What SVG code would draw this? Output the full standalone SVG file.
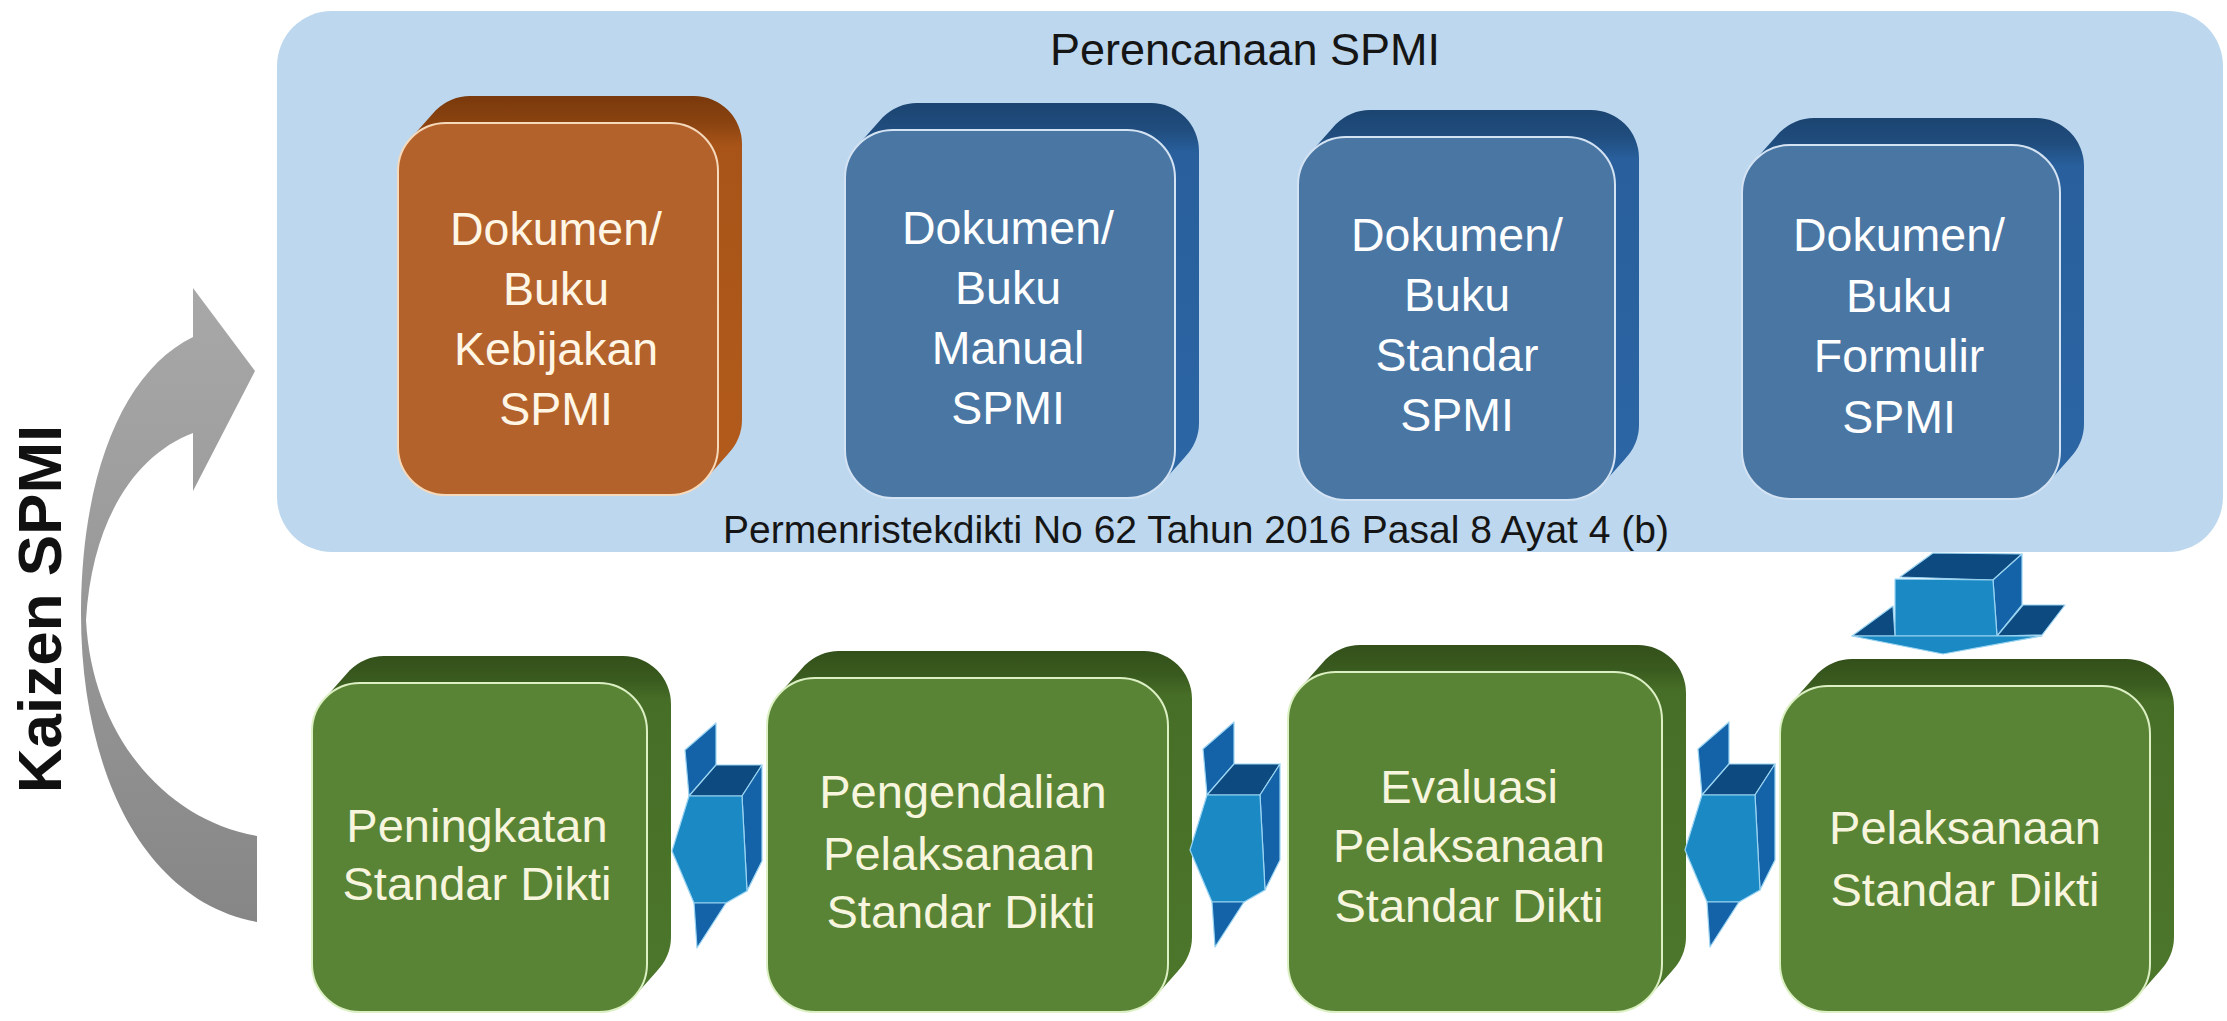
<svg xmlns="http://www.w3.org/2000/svg" width="2227" height="1021" viewBox="0 0 2227 1021">
<defs>
  <linearGradient id="gOB" x1="0" y1="0" x2="0" y2="1">
    <stop offset="0" stop-color="#7A390C"/><stop offset="0.07" stop-color="#8A4310"/><stop offset="0.13" stop-color="#A85418"/><stop offset="1" stop-color="#B25B1C"/>
  </linearGradient>
  <linearGradient id="gBB" x1="0" y1="0" x2="0" y2="1">
    <stop offset="0" stop-color="#1B4471"/><stop offset="0.07" stop-color="#204D7E"/><stop offset="0.13" stop-color="#285F9C"/><stop offset="1" stop-color="#2C66A4"/>
  </linearGradient>
  <linearGradient id="gGB" x1="0" y1="0" x2="0" y2="1">
    <stop offset="0" stop-color="#33501A"/><stop offset="0.07" stop-color="#3A5B1F"/><stop offset="0.13" stop-color="#476E27"/><stop offset="1" stop-color="#4C772B"/>
  </linearGradient>
  <linearGradient id="gK" x1="0" y1="0" x2="0" y2="1">
    <stop offset="0" stop-color="#A8A8A8"/><stop offset="0.5" stop-color="#989898"/><stop offset="1" stop-color="#868686"/>
  </linearGradient>
  <g id="leftArrow">
    <polygon class="aS" points="13,-101 44,-128 44,-86 17,-55"/>
    <polygon class="aT" points="17,-55 44,-86 90,-86 70,-55"/>
    <polygon class="aS" points="70,-55 90,-86 90,10 75,40"/>
    <polygon class="aF" points="17,-55 70,-55 75,40 54,52 22,52 0,0"/>
    <polygon class="aS" points="22,52 54,52 25,97"/>
  </g>
</defs>
<style>
  text{font-family:"Liberation Sans",Arial,sans-serif}
  .panel{fill:#BDD7EE}
  .ttl{fill:#151515;text-anchor:middle}
  .fo{fill:#B4622B;stroke:#F6D9BA;stroke-width:2}
  .fb{fill:#4A76A3;stroke:#D3E3F3;stroke-width:2}
  .fg{fill:#5A8435;stroke:#DCF0C4;stroke-width:2}
  .bo{fill:url(#gOB)}
  .bb{fill:url(#gBB)}
  .bg{fill:url(#gGB)}
  .dt{font-size:46.5px;fill:#FFFFFF;text-anchor:middle}
  .ot{font-size:46.5px;fill:#FFF6E6;text-anchor:middle}
  .gt{font-size:47px;fill:#F7F5DE;text-anchor:middle}
  .aF{fill:#1B8AC4;stroke:#9AD4F2;stroke-width:1.2;stroke-linejoin:round}
  .aT{fill:#0C4A80;stroke:#9AD4F2;stroke-width:1.2;stroke-linejoin:round}
  .aS{fill:#1463A8;stroke:#9AD4F2;stroke-width:1.2;stroke-linejoin:round}
</style>

<g id="panel-perencanaan">
  <rect class="panel" x="277" y="11" width="1946" height="541" rx="55"/>
  <text class="ttl" x="1245" y="65" font-size="45">Perencanaan SPMI</text>
  <text class="ttl" x="1196" y="543" font-size="39">Permenristekdikti No 62 Tahun 2016 Pasal 8 Ayat 4 (b)</text>
</g>

<g id="node-kebijakan" transform="translate(398,123)">
  <path class="bo" d="M72,-27 H296 A48,48 0 0 1 344,21 V297 A48,48 0 0 1 296,345 H72 A48,48 0 0 1 24,297 V21 A48,48 0 0 1 72,-27 Z M14,14 L38,-13 L330,331 L306,358 Z"/>
  <rect class="fo" x="0" y="0" width="320" height="372" rx="48"/>
  <text class="ot" x="158" y="122">Dokumen/</text>
  <text class="ot" x="158" y="182">Buku</text>
  <text class="ot" x="158" y="242">Kebijakan</text>
  <text class="ot" x="158" y="302">SPMI</text>
</g>

<g id="node-manual" transform="translate(845,130)">
  <path class="bb" d="M72,-27 H306 A48,48 0 0 1 354,21 V293 A48,48 0 0 1 306,341 H72 A48,48 0 0 1 24,293 V21 A48,48 0 0 1 72,-27 Z M14,14 L38,-13 L340,327 L316,354 Z"/>
  <rect class="fb" x="0" y="0" width="330" height="368" rx="48"/>
  <text class="dt" x="163" y="114">Dokumen/</text>
  <text class="dt" x="163" y="174">Buku</text>
  <text class="dt" x="163" y="234">Manual</text>
  <text class="dt" x="163" y="294">SPMI</text>
</g>

<g id="node-standar" transform="translate(1298,137)">
  <path class="bb" d="M72,-27 H293 A48,48 0 0 1 341,21 V288 A48,48 0 0 1 293,336 H72 A48,48 0 0 1 24,288 V21 A48,48 0 0 1 72,-27 Z M14,14 L38,-13 L327,322 L303,349 Z"/>
  <rect class="fb" x="0" y="0" width="317" height="363" rx="48"/>
  <text class="dt" x="159" y="114">Dokumen/</text>
  <text class="dt" x="159" y="174">Buku</text>
  <text class="dt" x="159" y="234">Standar</text>
  <text class="dt" x="159" y="294">SPMI</text>
</g>

<g id="node-formulir" transform="translate(1742,145)">
  <path class="bb" d="M72,-27 H294 A48,48 0 0 1 342,21 V279 A48,48 0 0 1 294,327 H72 A48,48 0 0 1 24,279 V21 A48,48 0 0 1 72,-27 Z M14,14 L38,-13 L328,313 L304,340 Z"/>
  <rect class="fb" x="0" y="0" width="318" height="354" rx="48"/>
  <text class="dt" x="157" y="106">Dokumen/</text>
  <text class="dt" x="157" y="167">Buku</text>
  <text class="dt" x="157" y="227">Formulir</text>
  <text class="dt" x="157" y="288">SPMI</text>
</g>

<g id="node-peningkatan" transform="translate(312,683)">
  <path class="bg" d="M72,-27 H311 A48,48 0 0 1 359,21 V254 A48,48 0 0 1 311,302 H72 A48,48 0 0 1 24,254 V21 A48,48 0 0 1 72,-27 Z M14,14 L38,-13 L345,288 L321,315 Z"/>
  <rect class="fg" x="0" y="0" width="335" height="329" rx="48"/>
  <text class="gt" x="165" y="159">Peningkatan</text>
  <text class="gt" x="165" y="217">Standar Dikti</text>
</g>

<g id="node-pengendalian" transform="translate(767,678)">
  <path class="bg" d="M72,-27 H377 A48,48 0 0 1 425,21 V259 A48,48 0 0 1 377,307 H72 A48,48 0 0 1 24,259 V21 A48,48 0 0 1 72,-27 Z M14,14 L38,-13 L411,293 L387,320 Z"/>
  <rect class="fg" x="0" y="0" width="401" height="334" rx="48"/>
  <text class="gt" x="196" y="130">Pengendalian</text>
  <text class="gt" x="192" y="192">Pelaksanaan</text>
  <text class="gt" x="194" y="250">Standar Dikti</text>
</g>

<g id="node-evaluasi" transform="translate(1288,672)">
  <path class="bg" d="M72,-27 H350 A48,48 0 0 1 398,21 V265 A48,48 0 0 1 350,313 H72 A48,48 0 0 1 24,265 V21 A48,48 0 0 1 72,-27 Z M14,14 L38,-13 L384,299 L360,326 Z"/>
  <rect class="fg" x="0" y="0" width="374" height="340" rx="48"/>
  <text class="gt" x="181" y="131">Evaluasi</text>
  <text class="gt" x="181" y="190">Pelaksanaan</text>
  <text class="gt" x="181" y="250">Standar Dikti</text>
</g>

<g id="node-pelaksanaan" transform="translate(1780,686)">
  <path class="bg" d="M72,-27 H346 A48,48 0 0 1 394,21 V251 A48,48 0 0 1 346,299 H72 A48,48 0 0 1 24,251 V21 A48,48 0 0 1 72,-27 Z M14,14 L38,-13 L380,285 L356,312 Z"/>
  <rect class="fg" x="0" y="0" width="370" height="326" rx="48"/>
  <text class="gt" x="185" y="158">Pelaksanaan</text>
  <text class="gt" x="185" y="220">Standar Dikti</text>
</g>

<g id="connectors">
  <g id="arrow-down">
    <polygon class="aT" points="1900,577 1933,553 2022,554 1993,580"/>
    <polygon class="aS" points="1993,580 2022,554 2022,605 1997,636"/>
    <polygon class="aF" points="1895,579 1993,580 1997,636 1895,636"/>
    <polygon class="aT" points="1852,636 1893,606 1895,636"/>
    <polygon class="aT" points="1997,636 2023,605 2065,605 2042,635"/>
    <polygon class="aF" points="1852,636 2042,636 1943,654"/>
  </g>
  <use href="#leftArrow" x="1685" y="850"/>
  <use href="#leftArrow" x="1190" y="850"/>
  <use href="#leftArrow" x="672" y="851"/>
  <g id="kaizen-arrow">
    <path fill="url(#gK)" d="M193,337 C125,370 82,470 81,610 C80,765 140,900 257,922 L257,836 C165,820 92,735 86,620 C92,520 135,455 193,433 L193,491 L255,371 L193,288 Z"/>
    <text transform="translate(61,609) rotate(-90)" text-anchor="middle" font-weight="bold" font-size="62" fill="#111">Kaizen SPMI</text>
  </g>
</g>
</svg>
